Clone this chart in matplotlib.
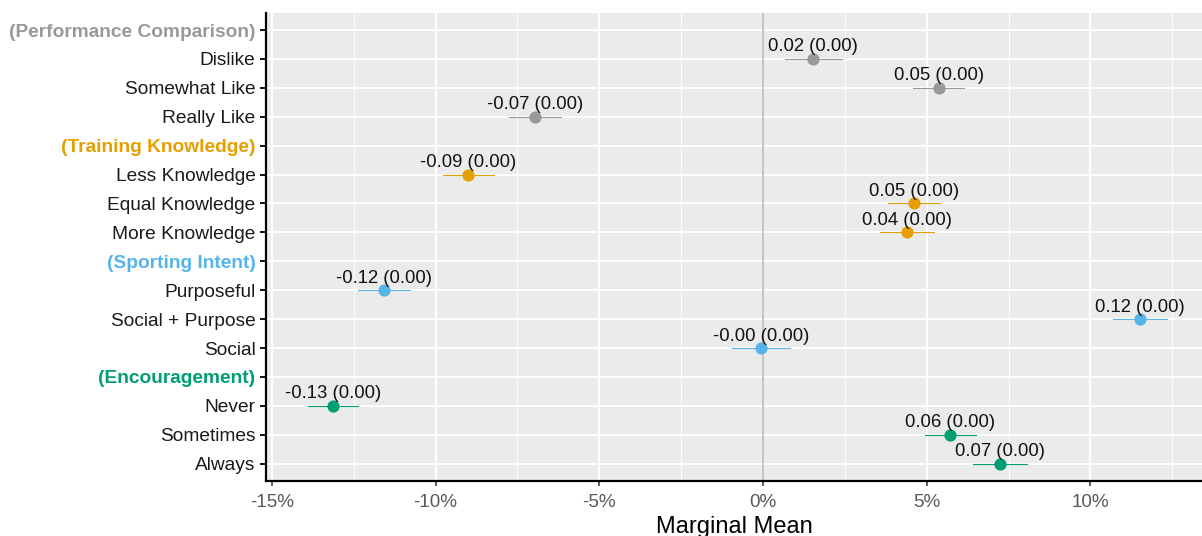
import numpy as np
import matplotlib
matplotlib.use("Agg")
import matplotlib.pyplot as plt
from matplotlib.ticker import PercentFormatter, MultipleLocator

# rows top to bottom; headers carry no estimate
labels = ["(Performance Comparison)", "Dislike", "Somewhat Like", "Really Like",
          "(Training Knowledge)", "Less Knowledge", "Equal Knowledge", "More Knowledge",
          "(Sporting Intent)", "Purposeful", "Social + Purpose", "Social",
          "(Encouragement)", "Never", "Sometimes", "Always"]
groups = ["perf", "perf", "perf", "perf",
          "train", "train", "train", "train",
          "sport", "sport", "sport", "sport",
          "enc", "enc", "enc", "enc"]
is_header = [True, False, False, False, True, False, False, False,
             True, False, False, False, True, False, False, False]
estimate = [np.nan, 0.0154, 0.0537, -0.0696,
            np.nan, -0.0900, 0.0461, 0.0439,
            np.nan, -0.1157, 0.1152, -0.0005,
            np.nan, -0.1313, 0.0572, 0.0725]
std_err = [np.nan, 0.0044, 0.0040, 0.0040,
           np.nan, 0.0040, 0.0041, 0.0042,
           np.nan, 0.0041, 0.0042, 0.0045,
           np.nan, 0.0039, 0.0040, 0.0042]

COLORS = {"perf": "#999999", "train": "#E69F00", "sport": "#56B4E9", "enc": "#009E73"}

plt.rcParams["font.family"] = ["Liberation Sans", "DejaVu Sans"]
plt.rcParams["axes.unicode_minus"] = False

fig = plt.figure(figsize=(12.02, 5.36), dpi=100)
ax = fig.add_axes([0.2213, 0.1026, 0.7787, 0.8737])
ax.set_facecolor("#EBEBEB")

y = np.arange(len(labels))
est = np.array(estimate)
se = np.array(std_err)

# zero reference
ax.axvline(0, color="#BEBEBE", linewidth=1.3, zorder=2)

for i in range(len(labels)):
    if is_header[i]:
        continue
    c = COLORS[groups[i]]
    lo, hi = est[i] - 1.96 * se[i], est[i] + 1.96 * se[i]
    ax.plot([lo, hi], [y[i], y[i]], color=c, linewidth=0.8, zorder=3)
    ax.plot(est[i], y[i], "o", color=c, markersize=8.8, markeredgewidth=0, zorder=4)
    ax.annotate(f"{est[i]:.2f} ({se[i]:.2f})", (est[i], y[i]),
                xytext=(0, 2.5), textcoords="offset points",
                ha="center", va="bottom", fontsize=13.3, color="#111111", zorder=5)

ax.set_xlim(-0.1518, 0.1341)
ax.set_ylim(len(labels) - 1 + 0.6, -0.6)

ax.xaxis.set_major_locator(MultipleLocator(0.05))
ax.xaxis.set_minor_locator(MultipleLocator(0.025))
ax.xaxis.set_major_formatter(PercentFormatter(1.0, decimals=0))
ax.set_yticks(y)
ax.set_yticklabels(labels)

for lab, hdr, g in zip(ax.get_yticklabels(), is_header, groups):
    if hdr:
        lab.set_color(COLORS[g])
        lab.set_fontweight("bold")
    else:
        lab.set_color("#1A1A1A")

ax.grid(True, which="major", color="white", linewidth=1.4, zorder=0)
ax.grid(True, which="minor", axis="x", color="white", linewidth=0.7, zorder=0)
ax.set_axisbelow(True)

for side in ["top", "right"]:
    ax.spines[side].set_visible(False)
for side in ["left", "bottom"]:
    ax.spines[side].set_color("black")
    ax.spines[side].set_linewidth(1.6)

ax.tick_params(axis="y", length=4.5, width=1.3, color="black", labelsize=13.8, pad=3)
ax.tick_params(axis="x", which="major", length=3.5, width=1.1, color="#333333",
               labelsize=13.6, labelcolor="#5A5A5A", pad=5.5)
ax.tick_params(axis="x", which="minor", length=0)

ax.set_xlabel("Marginal Mean", fontsize=17, color="black", labelpad=4)

fig.savefig("out.png", dpi=100)
plt.close(fig)
